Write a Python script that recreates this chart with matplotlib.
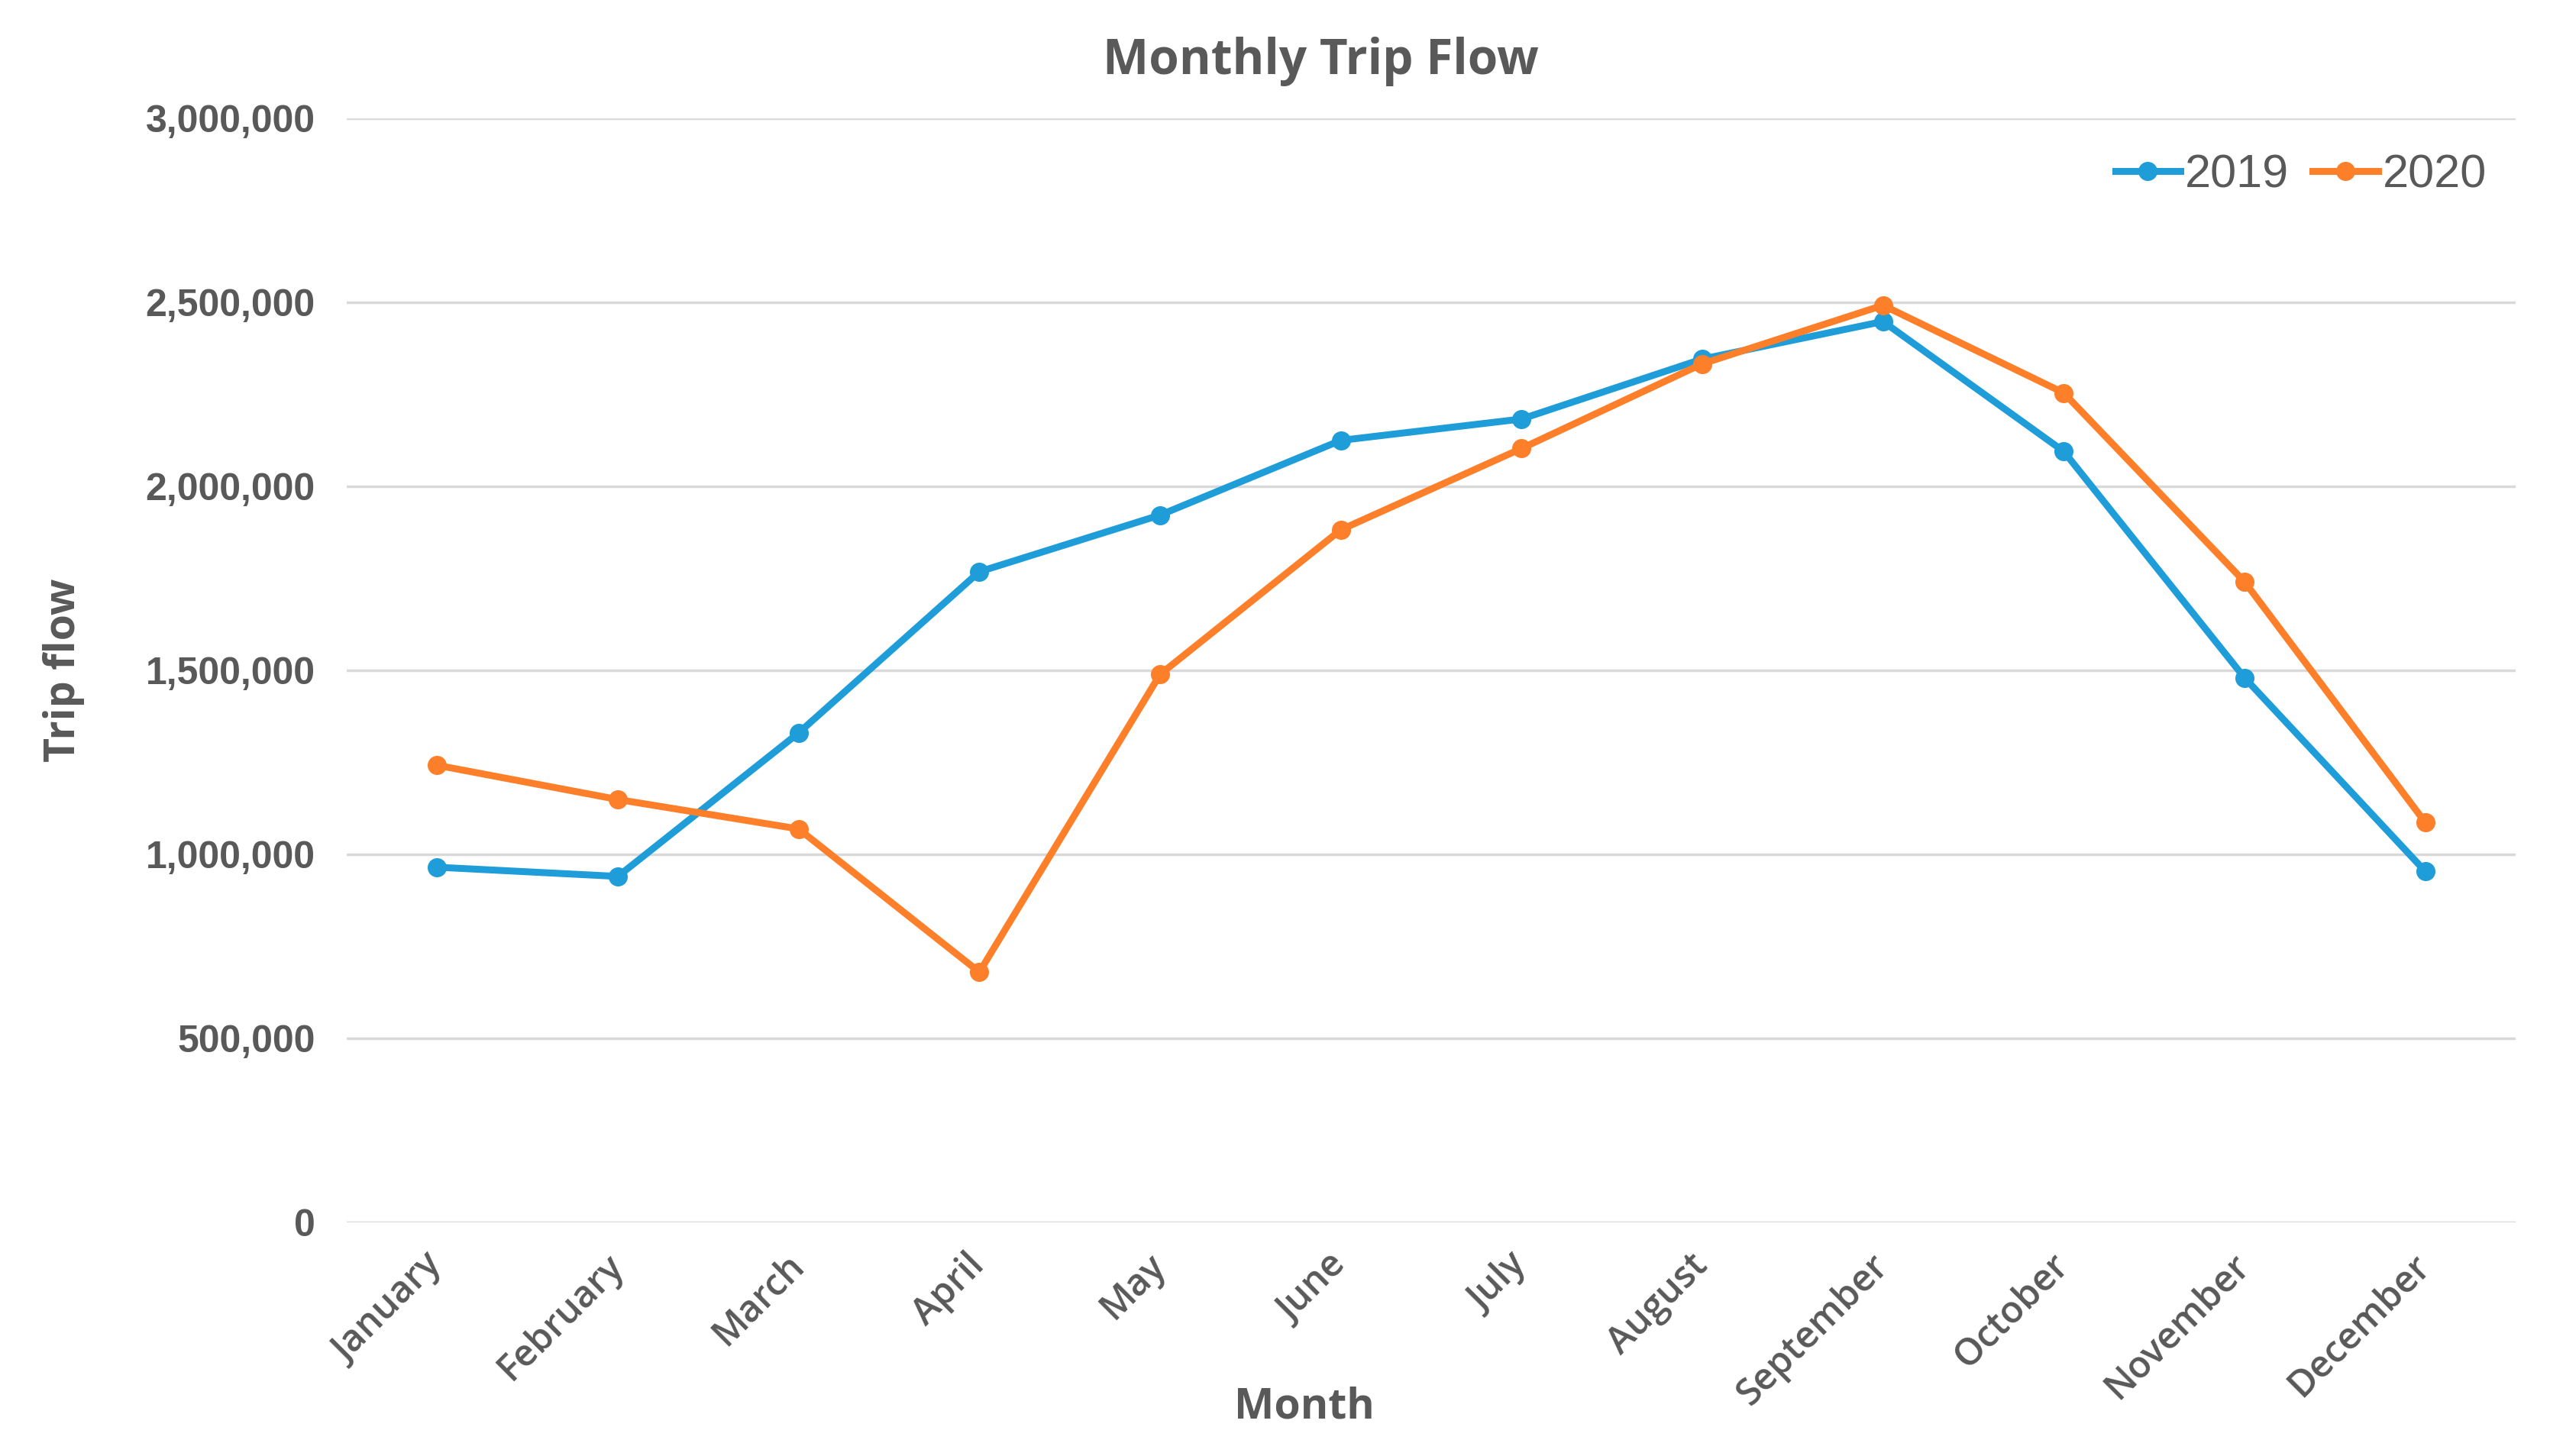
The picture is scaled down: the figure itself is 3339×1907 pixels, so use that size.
import matplotlib
matplotlib.use("Agg")
import matplotlib.pyplot as plt
from matplotlib.ticker import FuncFormatter

months = ["January", "February", "March", "April", "May", "June", "July",
          "August", "September", "October", "November", "December"]
flow_2019 = [965000, 940000, 1330000, 1768000, 1922000, 2125000, 2183000,
             2346000, 2448000, 2095000, 1480000, 954000]
flow_2020 = [1242000, 1149000, 1069000, 680000, 1489000, 1882000, 2103000,
             2333000, 2492000, 2254000, 1741000, 1087000]
yticks = [0, 500000, 1000000, 1500000, 2000000, 2500000, 3000000]

TEXT = "#595959"
BLUE = "#1E9DD9"
ORANGE = "#FE7F2A"
GRID = "#D9D9D9"

fig = plt.figure(figsize=(33.39, 19.07), dpi=100)
ax = fig.add_axes([0.136, 0.1605, 0.8505, 0.7582])

x = list(range(len(months)))
ax.plot(x, flow_2019, color=BLUE, lw=6.5, marker="o", markersize=17, label="2019", zorder=3)
ax.plot(x, flow_2020, color=ORANGE, lw=6.5, marker="o", markersize=17, label="2020", zorder=3)

ax.set_xlim(-0.5, len(months) - 0.5)
ax.set_ylim(0, 3000000)
ax.set_yticks(yticks)
ax.yaxis.set_major_formatter(FuncFormatter(lambda v, p: f"{int(v):,}"))
ax.grid(axis="y", color=GRID, lw=2.5)
ax.set_axisbelow(True)
for s in ax.spines.values():
    s.set_visible(False)

ax.tick_params(axis="y", length=0, pad=30, labelsize=36, labelcolor=TEXT)
for lab in ax.get_yticklabels():
    lab.set_fontfamily("Liberation Sans")
    lab.set_fontweight("bold")

ax.set_xticks(x)
ax.set_xticklabels(months, rotation=45, ha="right", va="center",
                   rotation_mode="anchor", fontsize=35, color=TEXT,
                   fontfamily="Open Sans", fontweight="semibold")
ax.tick_params(axis="x", length=0, pad=36)

fig.text(812 / 1568, 1 - 38 / 896, "Monthly Trip Flow", fontsize=46, color=TEXT,
         fontfamily="Open Sans", fontweight="bold", ha="center", va="center")
fig.text(802 / 1568, 1 - 866 / 896, "Month", fontsize=40, color=TEXT,
         fontfamily="Open Sans", fontweight="bold", ha="center", va="center")
ax.set_ylabel("Trip flow", fontsize=40, color=TEXT, fontfamily="Open Sans",
              fontweight="bold", labelpad=57)

leg = ax.legend(loc="upper right", bbox_to_anchor=(1.006, 1.006), frameon=False,
                ncol=2, handlelength=1.4, columnspacing=0.5, handletextpad=0.1,
                prop={"family": "Liberation Sans", "size": 44})
for t in leg.get_texts():
    t.set_color(TEXT)

fig.savefig("out.png", dpi=100, facecolor="white")
